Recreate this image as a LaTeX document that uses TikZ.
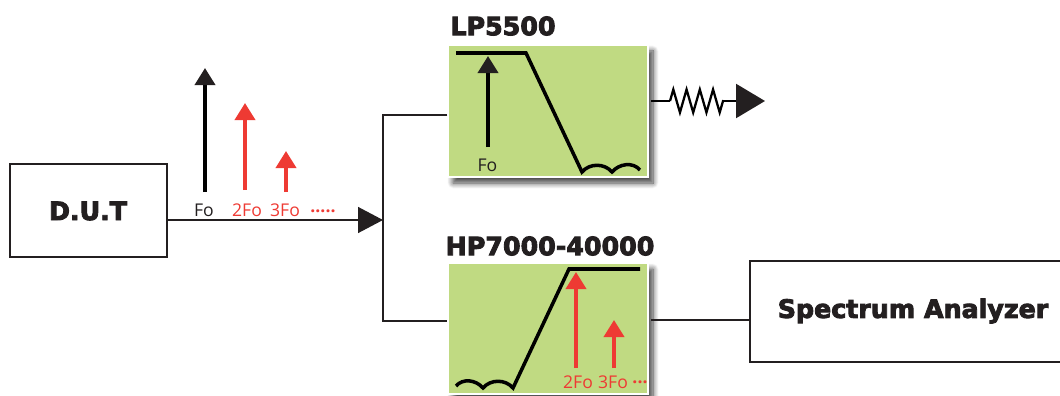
\documentclass[tikz,border=0pt]{standalone}
\usepackage{fontspec}
\setmainfont{Open Sans}
\newfontfamily\titlefont[FakeBold=3.5]{DejaVu Sans Bold}
\usetikzlibrary{arrows.meta,shadows.blur,decorations.pathmorphing}
\definecolor{filtergreen}{HTML}{C0DA82}
\definecolor{harmred}{HTML}{EE3A33}
\definecolor{inkdark}{HTML}{231F20}
\begin{document}
\begin{tikzpicture}
\tikzstyle{line}=[inkdark, line width=0.8pt]
\tikzstyle{block}=[draw=inkdark, line width=0.8pt, fill=white, inner sep=0pt]
\tikzstyle{filter}=[draw=white, line width=0.8pt, fill=filtergreen, minimum width=4cm, inner sep=0pt, blur shadow={shadow xshift=0.1cm, shadow yshift=-0.12cm, shadow blur radius=0.11cm, shadow blur steps=8, shadow opacity=75}]
\tikzstyle{curve}=[black, line width=2pt, line join=miter]
\tikzstyle{spike}=[line width=2.1pt, -{Triangle[length=0.34cm, width=0.4cm]}]
\tikzstyle{title}=[font=\titlefont\fontsize{14.4pt}{16pt}\selectfont, text=inkdark, inner sep=0pt]
\tikzstyle{tick}=[font=\fontsize{10pt}{12pt}\selectfont, inner sep=0pt]
\tikzstyle{dots}=[font=\bfseries\fontsize{10pt}{12pt}\selectfont, text=harmred, inner sep=0pt]
\useasboundingbox (0,0) rectangle (21.2,7.9);

% blocks
\draw node[block, minimum width=3.14cm, minimum height=1.86cm] (D) at (1.77,3.69) {};
\draw node[title] (Dt) at (1.76,3.68) {D.U.T};
\draw node[block, minimum width=6.3cm, minimum height=2.02cm] (S) at (18.15,1.67) {};
\draw node[title] (St) at (18.26,1.68) {Spectrum Analyzer};
\draw node[filter, minimum height=2.64cm] (L) at (10.96,5.68) {};
\draw node[filter, minimum height=2.62cm] (H) at (10.96,1.33) {};
\draw node[title] (Lt) at (10.06,7.38) {LP5500};
\draw node[title] (Ht) at (11.0,2.98) {HP7000-40000};

% connectors
\coordinate (J) at (7.66,3.5);
\coordinate (J1) at (7.66,5.6);
\coordinate (J2) at (7.66,1.48);
\coordinate (K) at (13.02,1.5);
\coordinate (R0) at (13.02,5.88);
\coordinate (R1) at (13.4,5.88);
\coordinate (R2) at (14.46,5.88);
\coordinate (R3) at (14.9,5.88);
\coordinate (T) at (15.3,5.88);
\draw[line, -{Triangle[length=0.5cm, width=0.52cm]}] (D.east |- J) -- (J);
\draw[line] (L.west |- J1) -- (J1) -- (J2) -- (H.west |- J2);
\draw[line] (K) -- (S.west |- K);
\draw[black, line width=1.3pt] (R0) -- (R1);
\draw[black, line width=1.3pt, decorate, decoration={zigzag, segment length=0.265cm, amplitude=0.23cm}] (R1) -- (R2);
\draw[black, line width=1.3pt] (R2) -- (R3);
\draw[inkdark, line width=1.3pt, -{Triangle[length=0.58cm, width=0.68cm]}] (R3) -- (T);

% spectrum before the split
\draw node[tick, text=inkdark] (F) at (4.08,3.69) {Fo};
\draw node[tick, text=harmred] (F2) at (4.94,3.69) {2Fo};
\draw node[tick, text=harmred] (F3) at (5.70,3.69) {3Fo};
\draw node[dots] (Fd) at (6.46,3.68) {.....};
\coordinate (F1a) at (4.10,4.06);
\coordinate (F1b) at (4.10,6.54);
\coordinate (F2a) at (4.90,4.10);
\coordinate (F2b) at (4.90,5.84);
\coordinate (F3a) at (5.72,4.06);
\coordinate (F3b) at (5.72,4.88);
\draw[spike, black, -{Triangle[length=0.34cm, width=0.4cm, inkdark]}] (F1a) -- (F1b);
\draw[spike, harmred] (F2a) -- (F2b);
\draw[spike, harmred] (F3a) -- (F3b);

% low pass
\coordinate (La) at (9.12,6.84);
\coordinate (Lb) at (10.52,6.84);
\coordinate (Lc) at (11.64,4.46);
\coordinate (Ld) at (12.24,4.46);
\coordinate (Le) at (12.8,4.5);
\draw[curve] (La) -- (Lb) -- (Lc) to[out=50, in=130] (Ld) to[out=50, in=130] (Le);
\draw node[tick, text=inkdark] (LF) at (9.75,4.6) {Fo};
\coordinate (LFa) at (9.76,4.96);
\coordinate (LFb) at (9.76,6.78);
\draw[spike, black, -{Triangle[length=0.34cm, width=0.4cm, inkdark]}] (LFa) -- (LFb);

% high pass
\coordinate (Ha) at (9.12,0.18);
\coordinate (Hb) at (9.66,0.14);
\coordinate (Hc) at (10.26,0.14);
\coordinate (Hd) at (11.38,2.52);
\coordinate (He) at (12.8,2.52);
\draw[curve] (Ha) to[out=50, in=130] (Hb) to[out=50, in=130] (Hc) -- (Hd) -- (He);
\draw node[tick, text=harmred] (H2) at (11.56,0.26) {2Fo};
\draw node[tick, text=harmred] (H3) at (12.26,0.26) {3Fo};
\draw node[dots] (Hd3) at (12.8,0.25) {...};
\coordinate (H2a) at (11.52,0.54);
\coordinate (H2b) at (11.52,2.46);
\coordinate (H3a) at (12.28,0.54);
\coordinate (H3b) at (12.28,1.5);
\draw[spike, harmred] (H2a) -- (H2b);
\draw[spike, harmred] (H3a) -- (H3b);
\end{tikzpicture}
\end{document}
